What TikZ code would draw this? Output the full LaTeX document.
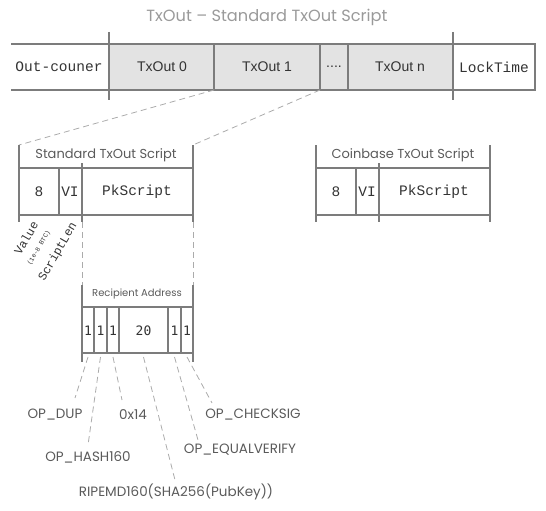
\documentclass[tikz,border=0pt]{standalone}
\usepackage{fontspec}
\setmainfont{Liberation Sans}
\setmonofont{Liberation Mono}
\newfontfamily\lightsans{Poppins}
\newfontfamily\cellmono{DejaVu Sans Mono}
\usetikzlibrary{calc}
\definecolor{linec}{HTML}{7C7C7C}
\definecolor{fillc}{HTML}{E3E3E3}
\definecolor{txtc}{HTML}{333333}
\definecolor{softc}{HTML}{5A5A5A}
\definecolor{titc}{HTML}{9A9A9A}
\definecolor{dashc}{HTML}{ABABAB}
\tikzset{
  ln/.style={linec,line width=1.1pt},
  dl/.style={dashc,line width=0.8pt,dash pattern=on 6pt off 4pt},
  mono/.style={font=\ttfamily\fontsize{14.5}{16}\selectfont,text=txtc,inner sep=1pt},
  cell/.style={font=\fontsize{14}{16}\selectfont,text=txtc,inner sep=1pt},
  lbl/.style={font=\lightsans\fontsize{13}{15}\selectfont,text=softc,inner sep=1pt},
  oplbl/.style={font=\lightsans\fontsize{13.5}{16}\selectfont,text=softc,inner sep=1pt},
  addr/.style={font=\cellmono\fontsize{13}{14}\selectfont,text=txtc,inner sep=1pt},
  rot/.style={font=\ttfamily\fontsize{12}{13}\selectfont,text=txtc,inner sep=0pt,rotate=60}
}
\begin{document}
\begin{tikzpicture}[x=1pt,y=-1pt]
\useasboundingbox (0,0) rectangle (546,511);
\node[font=\lightsans\fontsize{16.2}{18}\selectfont,text=titc] (title) at (267,17) {TxOut \textendash\ Standard TxOut Script};
\fill[fillc] (109,44) rectangle (453,90);
\draw[ln] (11,44) -- (535,44) -- (535,90) -- (11,90);
\foreach \xx in {109,453} \draw[ln] (\xx,32) -- (\xx,100);
\foreach \xx in {214,320,348} \draw[ln] (\xx,44) -- (\xx,90);
\node[mono] (cnt) at (59,67) {Out-couner};
\node[cell] (out0) at (162,67) {TxOut 0};
\node[cell] (out1) at (267,67) {TxOut 1};
\node[cell] (dots) at (334,67) {....};
\node[cell] (outn) at (400,67) {TxOut n};
\node[mono] (lock) at (494,67) {LockTime};
\coordinate (o1l) at (214,90);
\coordinate (o1r) at (320,90);
\coordinate (stl) at (19,145);
\coordinate (str) at (193,145);
\draw[dl] (o1l) -- (stl);
\draw[dl] (o1r) -- (str);
\foreach \bx/\nm/\hd in {0/std/Standard,297/cb/Coinbase}{
 \begin{scope}[xshift=\bx]
 \draw[ln] (19,145) -- (19,222) (193,145) -- (193,222) (19,168) -- (193,168)
   (19,215) -- (193,215) (59,168) -- (59,215) (82,163) -- (82,222);
 \node[lbl] (\nm-hd) at (106,155) {\hd\ TxOut Script};
 \node[mono] (\nm-val) at (39,192) {8};
 \node[mono] (\nm-len) at (70,192) {VI};
 \node[mono] (\nm-pk) at (137,192) {PkScript};
 \end{scope}}
\node[rot] (val) at (26,238) {Value};
\node[rot,font=\ttfamily\fontsize{6.5}{7}\selectfont] (btc) at (39,248) {(1e-8 BTC)};
\node[rot] (slen) at (58,252) {ScriptLen};
\coordinate (sdl) at (82,222);
\coordinate (sdr) at (193,222);
\coordinate (rtl) at (82,285);
\coordinate (rtr) at (193,285);
\draw[dl] (sdl) -- (rtl);
\draw[dl] (sdr) -- (rtr);
\draw[ln] (82,285) -- (82,362) (193,285) -- (193,362) (82,307) -- (193,307) (82,353) -- (193,353);
\foreach \xx in {94,107,119,168,181} \draw[ln] (\xx,307) -- (\xx,353);
\node[lbl,font=\lightsans\fontsize{10}{12}\selectfont] (rcp) at (137,294) {Recipient Address};
\foreach \nm/\xx/\tx in {a/88/1,b/100.5/1,c/113/1,d/143.5/20,e/174.5/1,f/187/1}{
 \node[addr] (r\nm) at (\xx,331) {\tx};
 \coordinate (r\nm-b) at (\xx,357);}
\node[oplbl] (dup) at (55,415) {OP\_DUP};
\node[oplbl] (hash) at (88,457) {OP\_HASH160};
\node[oplbl] (x14) at (133,415) {0x14};
\node[oplbl] (chk) at (253,415) {OP\_CHECKSIG};
\node[oplbl] (eqv) at (240,450) {OP\_EQUALVERIFY};
\node[oplbl] (rip) at (176,492) {RIPEMD160(SHA256(PubKey))};
\coordinate (dup-t) at (75,398);
\coordinate (hash-t) at (88,445);
\coordinate (x14-t) at (122,400);
\coordinate (rip-t) at (175,480);
\coordinate (eqv-t) at (198,440);
\coordinate (chk-t) at (212,403);
\foreach \a/\b in {ra/dup,rb/hash,rc/x14,rd/rip,re/eqv,rf/chk}
 \draw[dl] (\a-b) -- (\b-t);
\end{tikzpicture}
\end{document}
